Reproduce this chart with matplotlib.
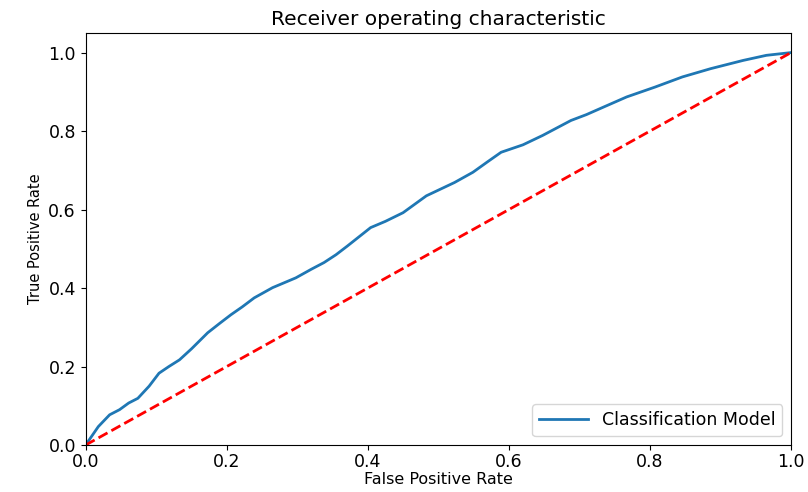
import matplotlib.pyplot as plt
import numpy as np

# ROC curve points
fpr = [0.0, 0.018, 0.034, 0.048, 0.061, 0.074, 0.090, 0.104, 0.118, 0.133,
       0.150, 0.173, 0.190, 0.206, 0.222, 0.239, 0.265, 0.298, 0.320, 0.338,
       0.355, 0.371, 0.404, 0.425, 0.450, 0.483, 0.523, 0.549, 0.570, 0.589,
       0.620, 0.648, 0.688, 0.710, 0.734, 0.767, 0.807, 0.846, 0.886, 0.932,
       0.965, 1.0]
tpr = [0.0, 0.047, 0.077, 0.090, 0.107, 0.119, 0.150, 0.183, 0.200, 0.217,
       0.245, 0.286, 0.310, 0.332, 0.352, 0.375, 0.401, 0.426, 0.448, 0.465,
       0.485, 0.507, 0.554, 0.570, 0.592, 0.635, 0.669, 0.695, 0.722, 0.746,
       0.765, 0.789, 0.827, 0.842, 0.861, 0.887, 0.912, 0.938, 0.959, 0.980,
       0.993, 1.0]
diag = [0, 1]

fig = plt.figure(figsize=(8.08, 4.92), dpi=100)
ax = fig.add_axes([0.106, 0.0955, 0.873, 0.8375])

ax.plot(fpr, tpr, color='#1f77b4', lw=2, label='Classification Model')
ax.plot(diag, diag, 'r--', lw=2)

ax.set_xlim(0, 1)
ax.set_ylim(0, 1.05)
ax.tick_params(labelsize=12.5)
ax.tick_params(axis='x', pad=2)
ax.set_xlabel('False Positive Rate', fontsize=11.5, labelpad=1)
ax.set_ylabel('True Positive Rate', fontsize=10.5)
ax.set_title('Receiver operating characteristic', fontsize=14.5)
ax.legend(loc='lower right', fontsize=12.5, handlelength=2.8)

plt.savefig('out.png', dpi=100)
